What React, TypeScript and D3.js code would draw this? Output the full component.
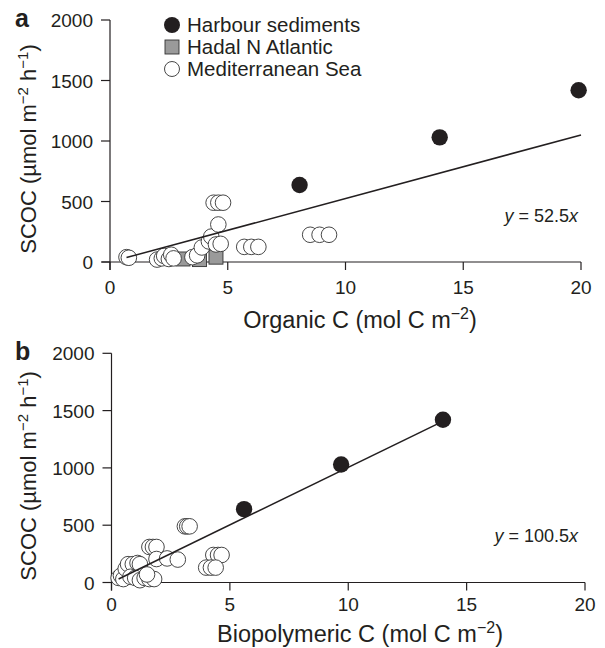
import React, { useEffect, useRef } from 'react';
import * as d3 from 'd3';

// values
const xTicks = [0, 5, 10, 15, 20];
const yTicks = [0, 500, 1000, 1500, 2000];

const harbourA: [number, number][] = [[8.05, 636], [14.0, 1030], [19.9, 1420]];
const hadalA: [number, number][] = [[3.1, 25], [3.8, 20], [4.5, 40]];
const medA: [number, number][] = [
  [0.7, 40], [0.8, 35], [2.0, 20], [2.2, 30], [2.3, 50], [2.5, 25], [2.6, 60], [2.7, 30],
  [3.5, 40], [3.7, 55], [3.9, 120], [4.2, 170], [4.3, 210], [4.5, 145], [4.6, 310], [4.7, 150],
  [4.4, 490], [4.6, 490], [4.8, 490], [5.7, 125], [6.0, 125], [6.3, 125],
  [8.5, 225], [8.9, 225], [9.3, 225],
];
const slopeA = 52.5;

const harbourB: [number, number][] = [[5.6, 640], [9.7, 1030], [14.0, 1420]];
const medB: [number, number][] = [
  [0.3, 40], [0.4, 60], [0.5, 30], [0.6, 120], [0.7, 160], [0.9, 160], [1.1, 170], [1.2, 160],
  [0.8, 50], [1.0, 40], [1.2, 20], [1.4, 40], [1.6, 30], [1.8, 30], [1.5, 70],
  [1.6, 310], [1.75, 310], [1.9, 310], [1.9, 205], [2.35, 210], [2.8, 200],
  [3.1, 490], [3.2, 490], [3.3, 490], [4.3, 240], [4.5, 240], [4.65, 240],
  [4.0, 130], [4.2, 130], [4.4, 130],
];
const slopeB = 100.5;

const legendLabels = ['Harbour sediments', 'Hadal N Atlantic', 'Mediterranean Sea'];

const INK = '#231f20';
const FONT = '"Liberation Sans", Arial, Helvetica, sans-serif';

export default function App() {
  const svgRef = useRef<SVGSVGElement>(null);

  useEffect(() => {
    if (!svgRef.current) return;
    const svg = d3.select(svgRef.current);
    svg.selectAll('*').remove();

    const drawPanel = (opts: any) => {
      const { xr, yr, harbour, hadal, med, slope, lineX, letter, xTitle, eq, tickOff, titleY, eqY } = opts;
      const x = d3.scaleLinear().domain([0, 20]).range(xr);
      const y = d3.scaleLinear().domain([0, 2000]).range(yr);
      const g = svg.append('g');

      // axes
      g.append('line').attr('x1', x(0)).attr('x2', x(0)).attr('y1', y(2000)).attr('y2', y(0) + 8)
        .attr('stroke', INK).attr('stroke-width', 1.2);
      g.append('line').attr('x1', x(0) - 8).attr('x2', x(20)).attr('y1', y(0)).attr('y2', y(0))
        .attr('stroke', INK).attr('stroke-width', 1.2);
      xTicks.forEach(t => {
        g.append('line').attr('x1', x(t)).attr('x2', x(t)).attr('y1', y(0)).attr('y2', y(0) + 8)
          .attr('stroke', INK).attr('stroke-width', 1.2);
        g.append('text').attr('x', x(t)).attr('y', y(0) + tickOff).attr('text-anchor', 'middle')
          .attr('font-size', 19).attr('fill', INK).text(t);
      });
      yTicks.forEach(t => {
        g.append('line').attr('x1', x(0) - 9).attr('x2', x(0)).attr('y1', y(t)).attr('y2', y(t))
          .attr('stroke', INK).attr('stroke-width', 1.2);
        g.append('text').attr('x', x(0) - 17).attr('y', y(t) + 7).attr('text-anchor', 'end')
          .attr('font-size', 19).attr('fill', INK).text(t);
      });

      // axis titles
      const xt = g.append('text').attr('x', 360).attr('y', titleY)
        .attr('text-anchor', 'middle').attr('font-size', 23.5).attr('fill', INK);
      xt.append('tspan').text(`${xTitle} (mol C m`);
      xt.append('tspan').attr('font-size', 16).attr('dy', -9).text('\u22122');
      xt.append('tspan').attr('dy', 9).text(')');

      const yc = (yr[0] + yr[1]) / 2 + 8;
      const yt = g.append('text').attr('transform', `translate(36,${yc}) rotate(-90)`)
        .attr('text-anchor', 'middle').attr('font-size', 22).attr('fill', INK);
      yt.append('tspan').text('SCOC (\u00b5mol m');
      yt.append('tspan').attr('font-size', 15).attr('dy', -8.5).text('\u22122');
      yt.append('tspan').attr('dy', 8.5).text(' h');
      yt.append('tspan').attr('font-size', 15).attr('dy', -8.5).text('\u22121');
      yt.append('tspan').attr('dy', 8.5).text(')');

      g.append('text').attr('x', 15).attr('y', y(2000) + 7).attr('font-size', 25)
        .attr('font-weight', 'bold').attr('fill', INK).text(letter);

      // markers
      g.selectAll('rect.hadal').data(hadal).enter().append('rect')
        .attr('x', (d: any) => x(d[0]) - 7).attr('y', (d: any) => y(d[1]) - 7)
        .attr('width', 14).attr('height', 14)
        .attr('fill', '#9a9a9a').attr('stroke', '#333').attr('stroke-width', 0.9);
      g.selectAll('circle.med').data(med).enter().append('circle')
        .attr('cx', (d: any) => x(d[0])).attr('cy', (d: any) => y(d[1])).attr('r', 7.8)
        .attr('fill', '#fff').attr('stroke', '#333').attr('stroke-width', 0.9);

      // fitted line
      g.append('line').attr('x1', x(lineX[0])).attr('y1', y(slope * lineX[0]))
        .attr('x2', x(lineX[1])).attr('y2', y(slope * lineX[1]))
        .attr('stroke', INK).attr('stroke-width', 1.5);

      g.selectAll('circle.harbour').data(harbour).enter().append('circle')
        .attr('cx', (d: any) => x(d[0])).attr('cy', (d: any) => y(d[1])).attr('r', 8.2)
        .attr('fill', INK);

      const et = g.append('text').attr('x', 578).attr('y', eqY).attr('text-anchor', 'end')
        .attr('font-size', 18).attr('fill', INK);
      et.append('tspan').attr('font-style', 'italic').text('y');
      et.append('tspan').text(` = ${eq}`);
      et.append('tspan').attr('font-style', 'italic').text('x');
    };

    drawPanel({
      xr: [110, 581], yr: [262, 20], harbour: harbourA, hadal: hadalA, med: medA,
      slope: slopeA, lineX: [0.7, 20], letter: 'a', xTitle: 'Organic C', eq: slopeA,
      tickOff: 32, titleY: 328, eqY: 222,
    });
    drawPanel({
      xr: [111.5, 585], yr: [582.5, 353.3], harbour: harbourB, hadal: [], med: medB,
      slope: slopeB, lineX: [0.3, 14.1], letter: 'b', xTitle: 'Biopolymeric C', eq: slopeB,
      tickOff: 28, titleY: 642, eqY: 542,
    });

    // legend
    const lg = svg.append('g').attr('font-size', 20.5).attr('fill', INK);
    const ly = d3.scalePoint().domain(legendLabels).range([25, 69]);
    lg.append('circle').attr('cx', 172).attr('cy', ly(legendLabels[0])!).attr('r', 8).attr('fill', INK);
    lg.append('rect').attr('x', 165).attr('y', ly(legendLabels[1])! - 7).attr('width', 14).attr('height', 14)
      .attr('fill', '#9a9a9a').attr('stroke', '#333').attr('stroke-width', 0.9);
    lg.append('circle').attr('cx', 172).attr('cy', ly(legendLabels[2])!).attr('r', 7.5)
      .attr('fill', '#fff').attr('stroke', '#333').attr('stroke-width', 0.9);
    legendLabels.forEach(l => {
      lg.append('text').attr('x', 187).attr('y', ly(l)! + 7).text(l);
    });
  }, []);

  return (
    <svg ref={svgRef} width={605} height={648}
      style={{ position: 'absolute', left: 0, top: 0, background: '#fff', fontFamily: FONT }} />
  );
}
